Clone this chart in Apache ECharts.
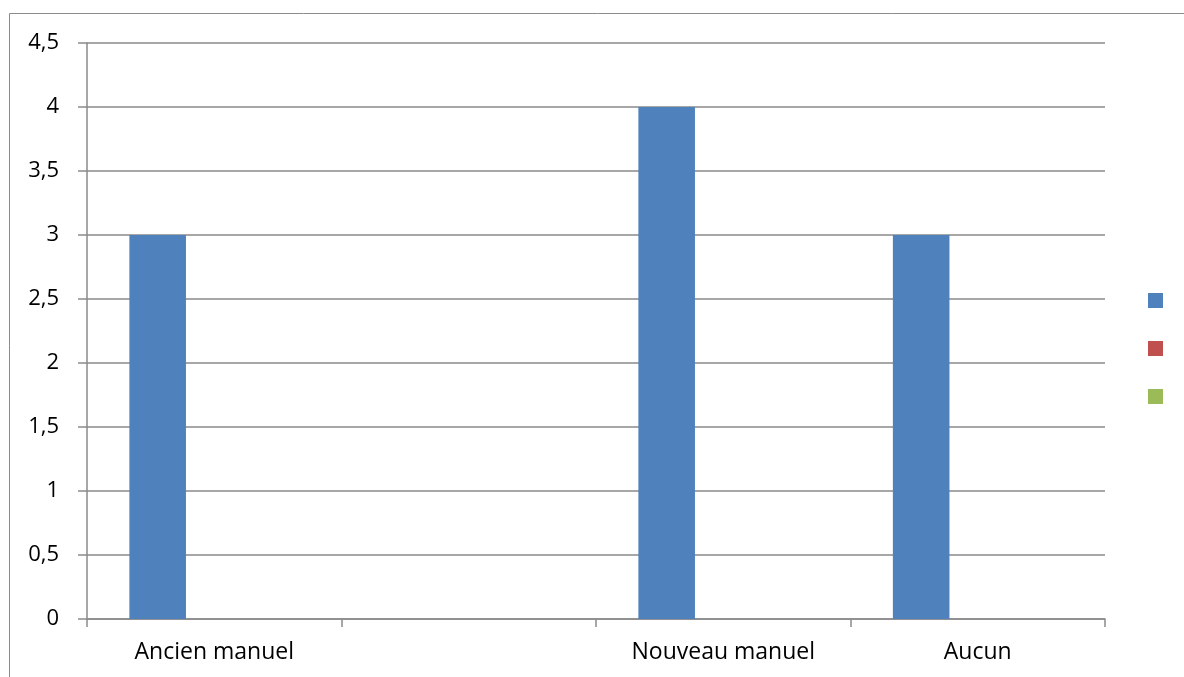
<!DOCTYPE html>
<html>
<head>
<meta charset="utf-8">
<style>
  html, body { margin: 0; padding: 0; background: #fff; }
  #chart { width: 1184px; height: 677px; }
</style>
<script src="https://cdn.jsdelivr.net/npm/echarts@6/dist/echarts.min.js"></script>
</head>
<body>
<div id="chart"></div>
<script>
// catégories et valeurs
const categories = ["Ancien manuel", "", "Nouveau manuel", "Aucun"];
const serie1 = [3, null, 4, 3];
const serie2 = [null, null, null, null];
const serie3 = [null, null, null, null];
const seriesNames = ["Série1", "Série2", "Série3"];
const colors = ["#4F81BD", "#C0504D", "#9BBB59"];

const chart = echarts.init(document.getElementById("chart"));

const axisGray = "#8a8a8a";
const font = "Open Sans, Liberation Sans, sans-serif";

const option = {
  backgroundColor: "#fff",
  animation: false,
  color: colors,
  grid: { left: 87, right: 79, top: 43, bottom: 58 },
  graphic: [
    {
      type: "rect",
      shape: { x: 9.5, y: 13.5, width: 1300, height: 800 },
      style: { fill: "none", stroke: "#8c8c8c", lineWidth: 1 },
      silent: true
    }
  ],
  legend: {
    orient: "vertical",
    left: 1143,
    top: 288,
    icon: "rect",
    itemWidth: 15,
    itemHeight: 15,
    itemGap: 33,
    data: seriesNames,
    formatter: () => "",
    selectedMode: false
  },
  xAxis: {
    type: "category",
    data: categories,
    boundaryGap: true,
    axisLine: { lineStyle: { color: axisGray, width: 1.5 } },
    axisTick: { show: true, length: 8, lineStyle: { color: axisGray, width: 1.5 } },
    axisLabel: { color: "#000", fontSize: 23, fontFamily: font, margin: 22, interval: 0 }
  },
  yAxis: {
    type: "value",
    min: 0,
    max: 4.5,
    interval: 0.5,
    axisLine: { show: true, lineStyle: { color: axisGray, width: 1.5 } },
    axisTick: { show: true, length: 9, lineStyle: { color: axisGray, width: 1.5 } },
    splitLine: { lineStyle: { color: axisGray, width: 1.5 } },
    axisLabel: {
      color: "#000",
      fontSize: 22,
      fontFamily: font,
      margin: 28,
      formatter: v => String(v).replace(".", ",")
    }
  },
  series: [
    { name: seriesNames[0], type: "bar", data: serie1, barGap: "0%", barCategoryGap: "33.3%" },
    { name: seriesNames[1], type: "bar", data: serie2, barGap: "0%", barCategoryGap: "33.3%" },
    { name: seriesNames[2], type: "bar", data: serie3, barGap: "0%", barCategoryGap: "33.3%" }
  ]
};

chart.setOption(option);
</script>
</body>
</html>
